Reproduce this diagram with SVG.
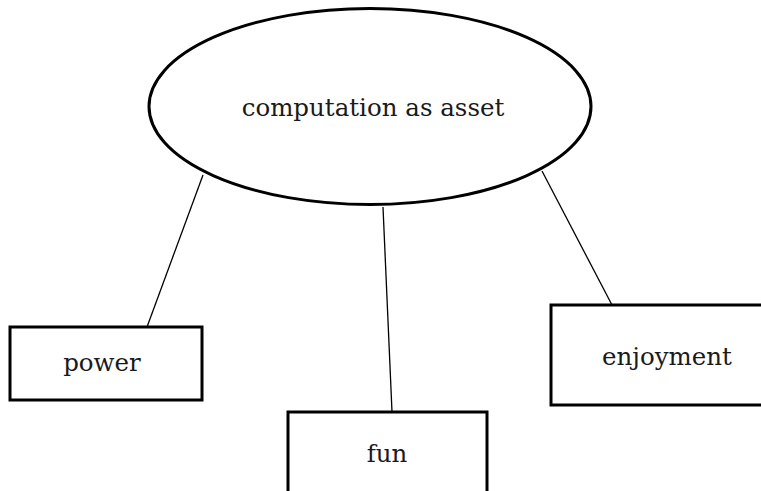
<svg xmlns="http://www.w3.org/2000/svg" width="761" height="491" viewBox="0 0 761 491">
<style>
.n{fill:#fff;stroke:#000;stroke-width:3}
.t{font-family:'DejaVu Serif','Liberation Serif',serif;font-size:24.5px;fill:#1a1a1a;text-anchor:middle}
.c{stroke:#000;stroke-width:1.3;fill:none}
</style>
<rect width="761" height="491" fill="#fff"/>
<g id="connectors">
<line class="c" x1="203" y1="175" x2="147" y2="327"/>
<line class="c" x1="383" y1="207" x2="392" y2="412"/>
<line class="c" x1="542" y1="171" x2="612" y2="305"/>
</g>
<g id="computation">
<ellipse class="n" cx="370" cy="106.5" rx="221" ry="98"/>
<text class="t" x="373" y="116">computation as asset</text>
</g>
<g id="power">
<rect class="n" x="10" y="327" width="192" height="73"/>
<text class="t" x="102" y="371">power</text>
</g>
<g id="fun">
<rect class="n" x="288" y="412" width="199" height="100"/>
<text class="t" x="387" y="462">fun</text>
</g>
<g id="enjoyment">
<rect class="n" x="551" y="305" width="232" height="100"/>
<text class="t" x="667" y="365">enjoyment</text>
</g>
</svg>
